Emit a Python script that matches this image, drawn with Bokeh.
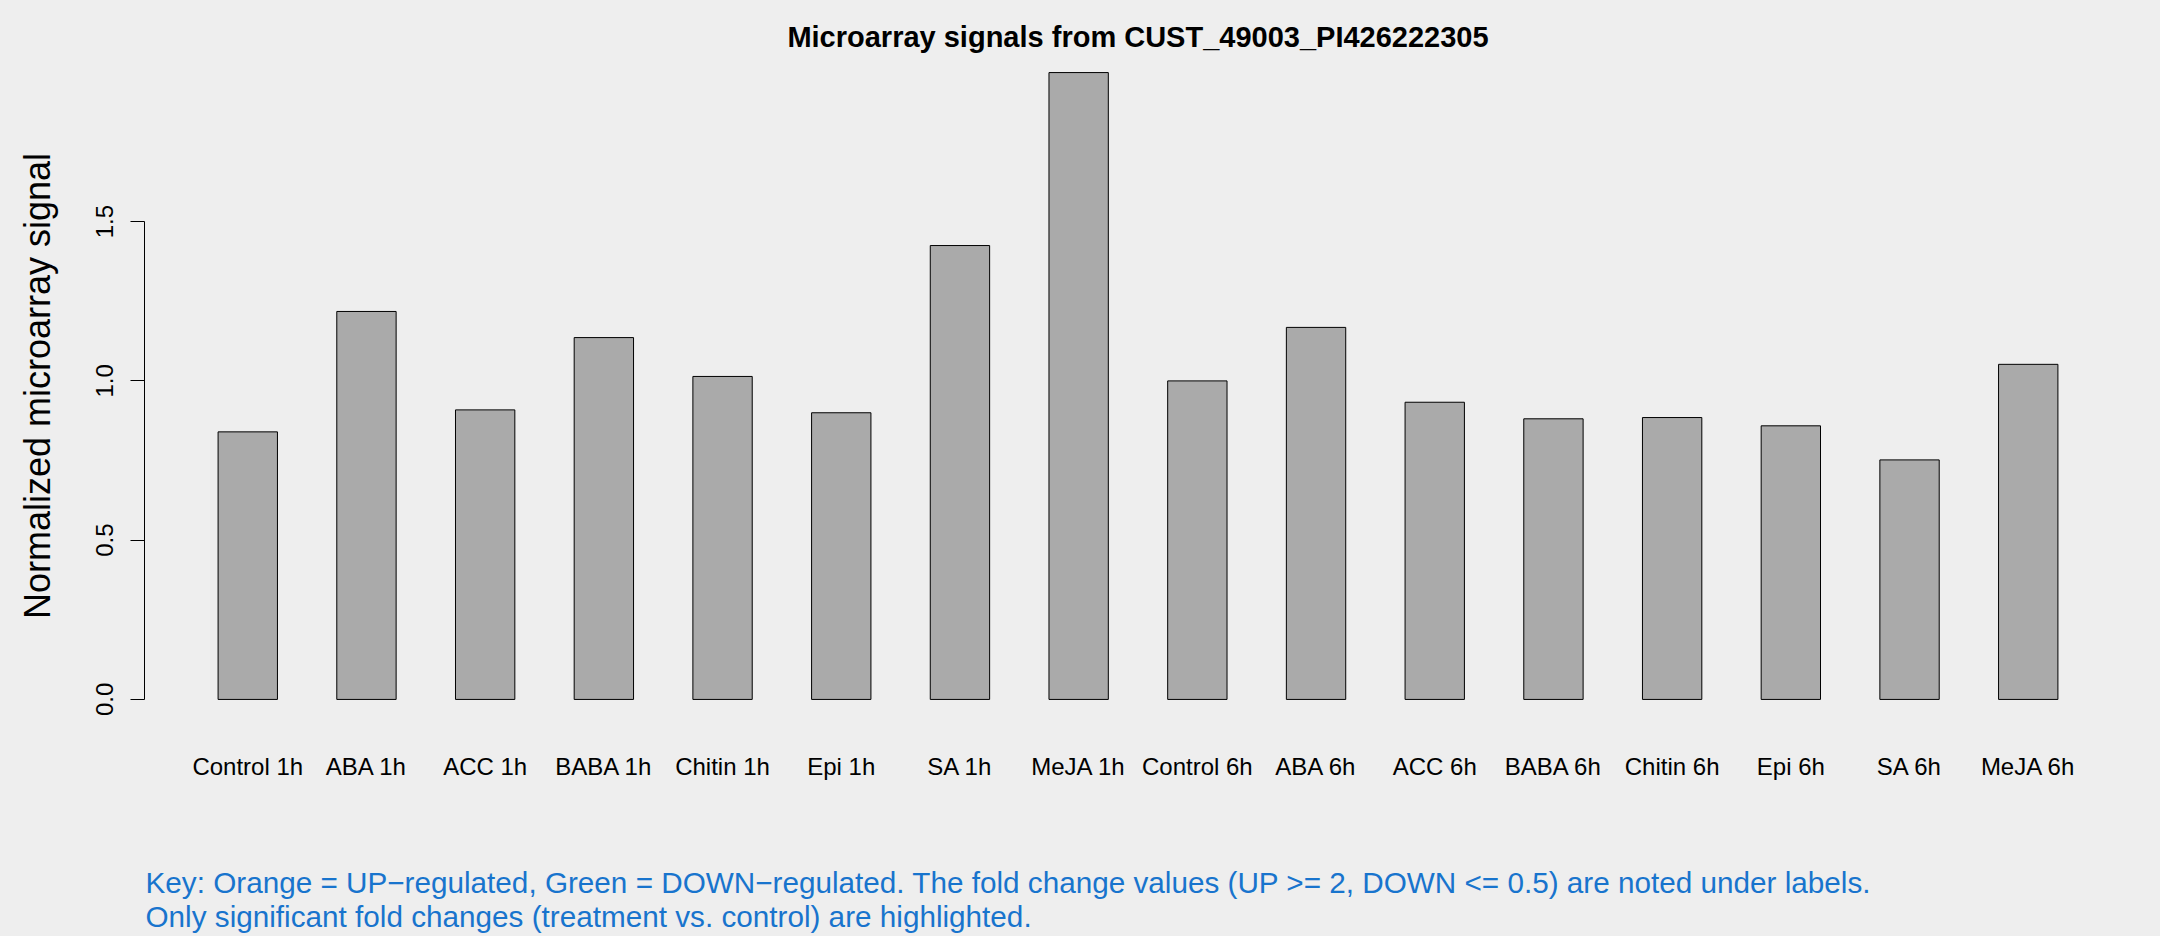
from bokeh.plotting import figure
from bokeh.layouts import column
from bokeh.models import Range1d, FixedTicker, Label, NumeralTickFormatter
from bokeh.embed import file_html
from bokeh.resources import INLINE

# ---- data ----
categories = ["Control 1h", "ABA 1h", "ACC 1h", "BABA 1h", "Chitin 1h", "Epi 1h", "SA 1h", "MeJA 1h",
              "Control 6h", "ABA 6h", "ACC 6h", "BABA 6h", "Chitin 6h", "Epi 6h", "SA 6h", "MeJA 6h"]
values = [0.840, 1.218, 0.909, 1.136, 1.014, 0.900, 1.425, 1.968,
          1.000, 1.168, 0.933, 0.881, 0.885, 0.859, 0.752, 1.052]
y_ticks = [0.0, 0.5, 1.0, 1.5]
title_text = "Microarray signals from CUST_49003_PI426222305"
y_label = "Normalized microarray signal"
key_lines = [
    "Key: Orange = UP\u2212regulated, Green = DOWN\u2212regulated. The fold change values (UP >= 2, DOWN <= 0.5) are noted under labels.",
    "Only significant fold changes (treatment vs. control) are highlighted.",
]

FONT = "Liberation Sans"
BG = "#EEEEEE"
KEY_COLOR = "#1874CD"
W = 2160
H_MAIN = 800
H_KEY = 136

n = len(categories)
xs = list(range(1, n + 1))
bar_w = 0.5
x_lo = 1 - bar_w / 2
x_hi = n + bar_w / 2
pad_x = 0.04 * (x_hi - x_lo)
ymax = max(values)

p = figure(width=W, height=H_MAIN,
           x_range=Range1d(x_lo - pad_x, x_hi + pad_x),
           y_range=Range1d(-0.04 * ymax, 1.04 * ymax),
           output_backend="svg", toolbar_location=None,
           min_border_left=144, min_border_right=29, min_border_top=47, min_border_bottom=76,
           background_fill_color=BG, border_fill_color=BG, outline_line_color=None)
p.styles = {"background-color": BG}
p.grid.visible = False

p.vbar(x=xs, top=values, bottom=0, width=bar_w,
       fill_color="#AAAAAA", line_color="black", line_width=1)

# title
p.title.text = title_text
p.title.align = "center"
p.title.text_font = FONT
p.title.text_font_size = "29px"
p.title.text_font_style = "bold"
p.title.text_color = "black"
p.title.standoff = -10

# y axis
ya = p.yaxis[0]
ya.ticker = FixedTicker(ticks=y_ticks)
ya.formatter = NumeralTickFormatter(format="0.0")
ya.bounds = (min(y_ticks), max(y_ticks))
ya.major_label_orientation = "vertical"
ya.major_label_text_font = FONT
ya.major_label_text_font_size = "24px"
ya.major_label_text_color = "black"
ya.major_label_standoff = 17
ya.major_tick_out = 14
ya.major_tick_in = 0
ya.minor_tick_line_color = None
ya.axis_line_color = "black"
ya.major_tick_line_color = "black"
ya.axis_label = y_label
ya.axis_label_text_font = FONT
ya.axis_label_text_font_size = "36px"
ya.axis_label_text_font_style = "normal"
ya.axis_label_text_color = "black"
ya.axis_label_standoff = 36

# x axis (category labels only)
xa = p.xaxis[0]
xa.ticker = FixedTicker(ticks=xs)
xa.major_label_overrides = {x: c for x, c in zip(xs, categories)}
xa.axis_line_color = None
xa.major_tick_line_color = None
xa.minor_tick_line_color = None
xa.major_tick_out = 0
xa.major_tick_in = 0
xa.major_label_standoff = 28
xa.major_label_text_font = FONT
xa.major_label_text_font_size = "24px"
xa.major_label_text_color = "black"

# key area: a plain strip below the chart holding the two key lines
k = figure(width=W, height=H_KEY, x_range=Range1d(0, W), y_range=Range1d(0, H_KEY),
           output_backend="svg", toolbar_location=None,
           x_axis_location=None, y_axis_location=None,
           min_border_left=0, min_border_right=0, min_border_top=0, min_border_bottom=0,
           background_fill_color=BG, border_fill_color=BG, outline_line_color=None)
k.styles = {"background-color": BG}
k.grid.visible = False
for i, line in enumerate(key_lines):
    k.add_layout(Label(x=1, y=54 - 34 * i, x_units="screen", y_units="screen",
                       text=line, text_font=FONT, text_font_size="29.7px",
                       text_color=KEY_COLOR, text_baseline="alphabetic", text_align="left"))

layout = column(p, k, spacing=0)
layout.styles = {"background-color": BG}
open("out.html", "w").write(file_html(layout, INLINE))
